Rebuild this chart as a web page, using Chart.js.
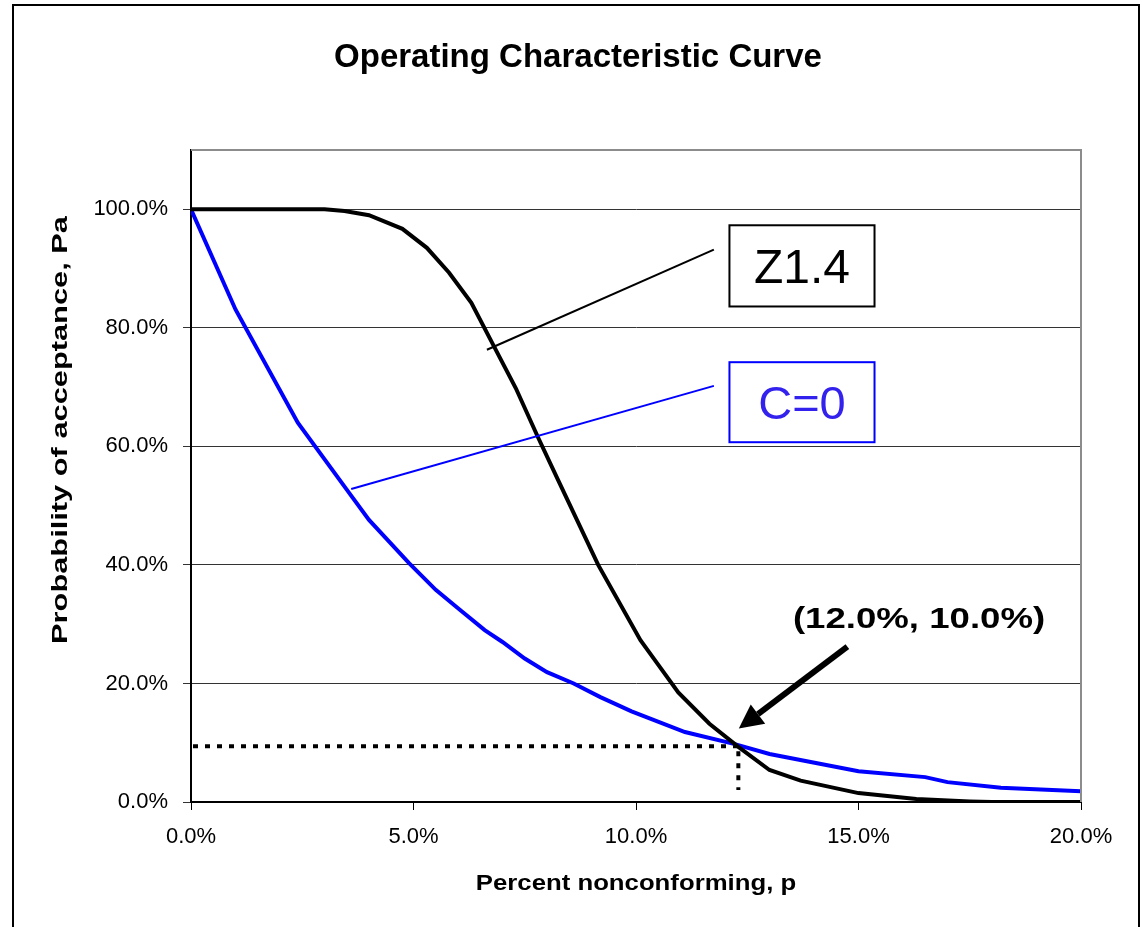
<!DOCTYPE html>
<html>
<head>
<meta charset="utf-8">
<title>Operating Characteristic Curve</title>
<script src="https://cdn.jsdelivr.net/npm/chart.js@4.4.1/dist/chart.umd.min.js"></script>
<style>
  html, body { margin: 0; padding: 0; background: #fff; }
  #wrap { width: 1142px; height: 927px; }
</style>
</head>
<body>
<div id="wrap"><canvas id="ocChart" width="1142" height="927"></canvas></div>
<script>
// values (percent)
const z14P  = [0, 1, 2, 3, 3.45, 4.0, 4.75, 5.3, 5.8, 6.3, 6.8, 7.3, 7.8, 8.25, 9.15, 10.1, 10.4, 10.95, 11.65, 12.3, 13.0, 13.7, 15.0, 16.3, 17.5, 18.0, 20.0];
const z14Pa = [100, 100, 100, 100, 99.7, 99.0, 96.7, 93.5, 89.3, 84.2, 77.0, 69.8, 61.5, 54.3, 40.0, 27.3, 24.2, 18.5, 13.2, 9.3, 5.4, 3.6, 1.5, 0.5, 0.1, 0, 0];

const c0P  = [0, 1.0, 2.4, 3.5, 4.0, 4.9, 5.5, 6.0, 6.6, 7.0, 7.5, 8.0, 8.6, 9.2, 9.9, 11.1, 12.2, 13.0, 14.1, 15.0, 16.5, 17.0, 18.2, 20.0];
const c0Pa = [100, 83.1, 64.0, 52.7, 47.6, 40.3, 35.8, 32.7, 29.0, 27.0, 24.2, 21.9, 20.0, 17.7, 15.3, 11.8, 9.8, 8.1, 6.5, 5.2, 4.2, 3.35, 2.4, 1.8];

const xTicks = [0, 5, 10, 15, 20];
const yTicks = [0, 20, 40, 60, 80, 100];

// the marked point on the chart (where the dotted guide lines sit)
const markP = 12.3;
const markPa = 9.4;

const FONT = "'Liberation Sans', Arial, sans-serif";

function toPoints(xs, ys) {
  return xs.map((x, i) => ({ x: x, y: ys[i] }));
}

const pct = v => Number(v).toFixed(1) + '%';

// annotations in data units
const notes = {
  z14: { from: [6.65, 76.3], to: [11.75, 93.2], box: [12.1, 97.3, 15.36, 83.6], text: 'Z1.4', size: 48, color: '#000' },
  c0:  { from: [3.6, 52.8],  to: [11.75, 70.2], box: [12.1, 74.2, 15.36, 60.7], text: 'C=0', size: 47, color: '#0000ff', textColor: '#3322ee' },
  arrow: { from: [14.75, 26.2], to: [12.31, 12.4] },
  label: { at: [16.36, 29.4], text: '(12.0%, 10.0%)' }
};

// old excel text comes out wider than normal, so stretch along the baseline
function wideText(ctx, text, x, y, sx) {
  ctx.save();
  ctx.translate(x, y);
  ctx.scale(sx, 1);
  ctx.fillText(text, 0, 0);
  ctx.restore();
}

const extras = {
  id: 'extras',
  beforeDraw(chart) {
    const ctx = chart.ctx;
    ctx.save();
    ctx.fillStyle = '#fff';
    ctx.fillRect(0, 0, chart.width, chart.height);
    ctx.strokeStyle = '#000';
    ctx.lineWidth = 2;
    ctx.strokeRect(13, 5, 1126, 1000);
    ctx.restore();
  },
  afterDatasetsDraw(chart) {
    const ctx = chart.ctx;
    const xs = chart.scales.x, ys = chart.scales.y;
    const a = chart.chartArea;
    const px = v => xs.getPixelForValue(v);
    const py = v => ys.getPixelForValue(v);
    ctx.save();

    // plot frame top / right
    ctx.strokeStyle = '#8c8c8c';
    ctx.lineWidth = 2;
    ctx.beginPath();
    ctx.moveTo(a.left, a.top);
    ctx.lineTo(a.right, a.top);
    ctx.lineTo(a.right, a.bottom);
    ctx.stroke();

    // dotted guide lines
    ctx.strokeStyle = '#000';
    ctx.lineWidth = 4;
    ctx.setLineDash([5, 7]);
    ctx.beginPath();
    ctx.moveTo(a.left + 2, py(markPa));
    ctx.lineTo(px(markP), py(markPa));
    ctx.stroke();
    ctx.beginPath();
    ctx.moveTo(px(markP), py(markPa) + 5);
    ctx.lineTo(px(markP), a.bottom - 12);
    ctx.stroke();
    ctx.setLineDash([]);

    // leader lines + boxes
    [notes.z14, notes.c0].forEach(n => {
      ctx.strokeStyle = n.color;
      ctx.lineWidth = 2;
      ctx.beginPath();
      ctx.moveTo(px(n.from[0]), py(n.from[1]));
      ctx.lineTo(px(n.to[0]), py(n.to[1]));
      ctx.stroke();
      const x1 = px(n.box[0]), y1 = py(n.box[1]), x2 = px(n.box[2]), y2 = py(n.box[3]);
      ctx.fillStyle = '#fff';
      ctx.fillRect(x1, y1, x2 - x1, y2 - y1);
      ctx.strokeRect(x1, y1, x2 - x1, y2 - y1);
      ctx.fillStyle = n.textColor || n.color;
      ctx.font = n.size + 'px ' + FONT;
      ctx.textAlign = 'center';
      ctx.textBaseline = 'alphabetic';
      ctx.fillText(n.text, (x1 + x2) / 2, (y1 + y2) / 2 + n.size * 0.36);
    });

    // arrow
    const tx = px(notes.arrow.from[0]), ty = py(notes.arrow.from[1]);
    const hx = px(notes.arrow.to[0]), hy = py(notes.arrow.to[1]);
    const ang = Math.atan2(hy - ty, hx - tx);
    const headLen = 24, headW = 12;
    const bx = hx - headLen * Math.cos(ang), by = hy - headLen * Math.sin(ang);
    ctx.strokeStyle = '#000';
    ctx.fillStyle = '#000';
    ctx.lineWidth = 6;
    ctx.beginPath();
    ctx.moveTo(tx, ty);
    ctx.lineTo(bx, by);
    ctx.stroke();
    ctx.beginPath();
    ctx.moveTo(hx, hy);
    ctx.lineTo(bx + headW * Math.sin(ang), by - headW * Math.cos(ang));
    ctx.lineTo(bx - headW * Math.sin(ang), by + headW * Math.cos(ang));
    ctx.closePath();
    ctx.fill();

    // point label
    ctx.font = 'bold 30px ' + FONT;
    ctx.textAlign = 'center';
    ctx.textBaseline = 'alphabetic';
    wideText(ctx, notes.label.text, px(notes.label.at[0]), py(notes.label.at[1]), 1.22);

    // titles
    ctx.font = 'bold 33px ' + FONT;
    ctx.fillText('Operating Characteristic Curve', 578, 67);
    ctx.font = 'bold 22px ' + FONT;
    wideText(ctx, 'Percent nonconforming, p', (a.left + a.right) / 2, 890, 1.17);
    ctx.translate(61, 430);
    ctx.rotate(-Math.PI / 2);
    ctx.textBaseline = 'middle';
    ctx.font = 'bold 22px ' + FONT;
    wideText(ctx, 'Probability of acceptance, Pa', 0, 0, 1.4);
    ctx.restore();
  }
};

new Chart(document.getElementById('ocChart'), {
  type: 'scatter',
  data: {
    datasets: [
      {
        label: 'Z1.4',
        data: toPoints(z14P, z14Pa),
        showLine: true,
        borderColor: '#000',
        borderWidth: 4,
        pointRadius: 0,
        tension: 0
      },
      {
        label: 'C=0',
        data: toPoints(c0P, c0Pa),
        showLine: true,
        borderColor: '#0000ff',
        borderWidth: 4,
        pointRadius: 0,
        tension: 0
      }
    ]
  },
  options: {
    responsive: false,
    devicePixelRatio: 1,
    animation: false,
    layout: { padding: { top: 150, right: 61, left: 0, bottom: 0 } },
    plugins: {
      legend: { display: false },
      tooltip: { enabled: false },
      title: { display: false }
    },
    scales: {
      x: {
        type: 'linear',
        min: xTicks[0],
        max: xTicks[xTicks.length - 1],
        afterBuildTicks: s => { s.ticks = xTicks.map(v => ({ value: v })); },
        afterFit: s => { s.height = 125; },
        ticks: {
          callback: pct,
          color: '#000',
          font: { family: FONT, size: 22 },
          padding: 14,
          maxRotation: 0
        },
        grid: { drawOnChartArea: false, drawTicks: true, tickLength: 8, color: '#000', lineWidth: 1 },
        border: { color: '#000', width: 2 }
      },
      y: {
        type: 'linear',
        min: 0,
        max: 110,
        afterBuildTicks: s => { s.ticks = yTicks.map(v => ({ value: v })); },
        afterFit: s => { s.width = 191; },
        ticks: {
          callback: pct,
          color: '#000',
          font: { family: FONT, size: 22 },
          padding: 15
        },
        grid: { color: '#333', lineWidth: 1, tickLength: 8 },
        border: { color: '#000', width: 2 }
      }
    }
  },
  plugins: [extras]
});
</script>
</body>
</html>
